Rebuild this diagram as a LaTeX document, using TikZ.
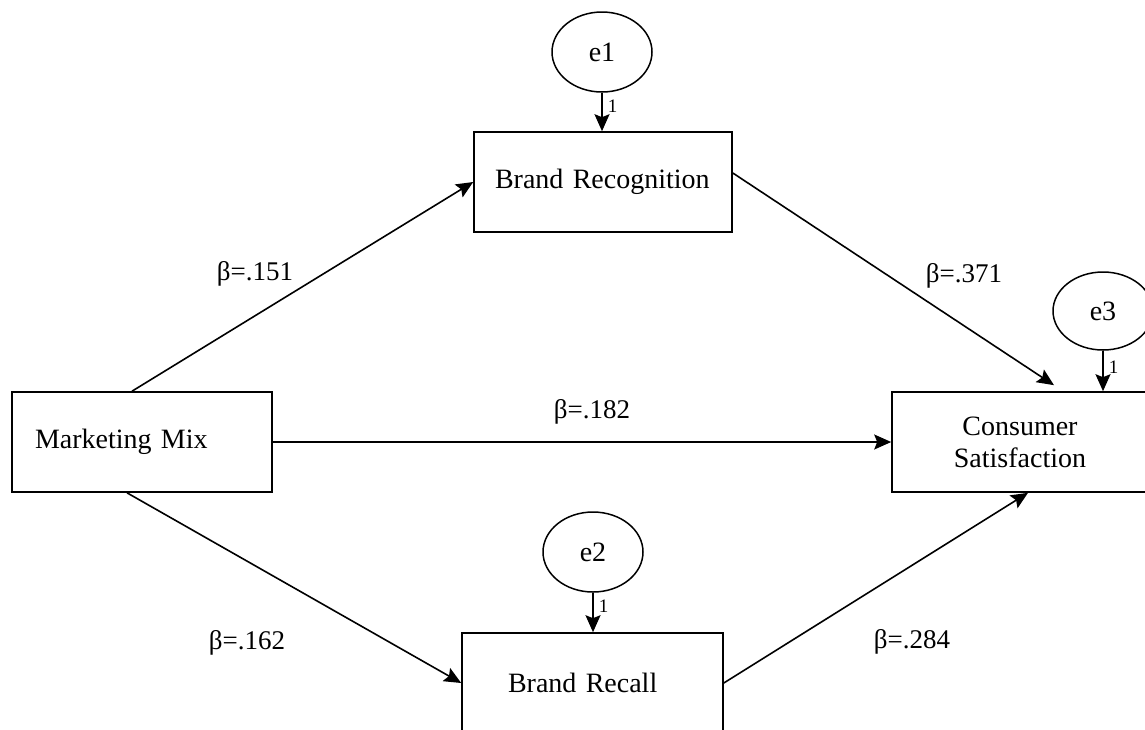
\documentclass[tikz,border=0pt]{standalone}
\usepackage{fontspec}
\setmainfont{Liberation Serif}
\usetikzlibrary{arrows.meta,shapes.geometric}

\begin{document}
\begin{tikzpicture}[x=1pt,y=-1pt,
box/.style={draw, line width=1.6pt, minimum height=100pt, align=left, inner xsep=23pt, font=\fontsize{28}{32}\selectfont},
err/.style={draw, ellipse, line width=1.5pt, minimum width=100pt, minimum height=80pt, inner sep=0pt, font=\fontsize{28}{32}\selectfont},
arr/.style={line width=1.6pt, -{Stealth[length=17pt,width=15pt,inset=3pt]}},
one/.style={font=\fontsize{19}{20}\selectfont, inner sep=2pt, xshift=3pt},
coef/.style={font=\fontsize{27}{30}\selectfont}]
	\useasboundingbox (0,0) rectangle (1145,729);
	\node[box, text width=214pt] at (142,442) (mm) {Marketing Mix};
	\node[box, text width=216pt, inner xsep=21pt] at (603,182) (br) {Brand Recognition};
	\node[box, text width=169pt, inner xsep=46pt] at (592.5,683) (brc) {Brand Recall};
	\node[box, text width=210pt, align=center] at (1020,442) (cs) {Consumer\\Satisfaction};
	\node[err] at (602,52) (e1) {e1};
	\node[err] at (593,552) (e2) {e2};
	\node[err, minimum height=78pt] at (1103,311) (e3) {e3};

	\draw[arr] ([xshift=-10pt]mm.north) -- (br.west);
	\draw[arr] (mm.east) -- (cs.west);
	\draw[arr] ([xshift=-15pt]mm.south) -- (brc.west);
	\draw[arr] ([yshift=9pt]br.east) -- ([xshift=34pt,yshift=6pt]cs.north);
	\draw[arr] (brc.east) -- ([xshift=8pt]cs.south);
	\draw[arr] (e1.south) -- node[one, right, pos=0.35] (w1) {1} (e1.south |- br.north);
	\draw[arr] (e2.south) -- node[one, right, pos=0.35] (w2) {1} (e2.south |- brc.north);
	\draw[arr] (e3.south) -- node[one, right, pos=0.4] (w3) {1} (e3.south |- cs.north);

	\node[coef] at (255,274) (b1) {β=.151};
	\node[coef] at (247,643) (b2) {β=.162};
	\node[coef] at (592,412) (b3) {β=.182};
	\node[coef] at (964,276) (b4) {β=.371};
	\node[coef] at (912,642) (b5) {β=.284};
\end{tikzpicture}
\end{document}
